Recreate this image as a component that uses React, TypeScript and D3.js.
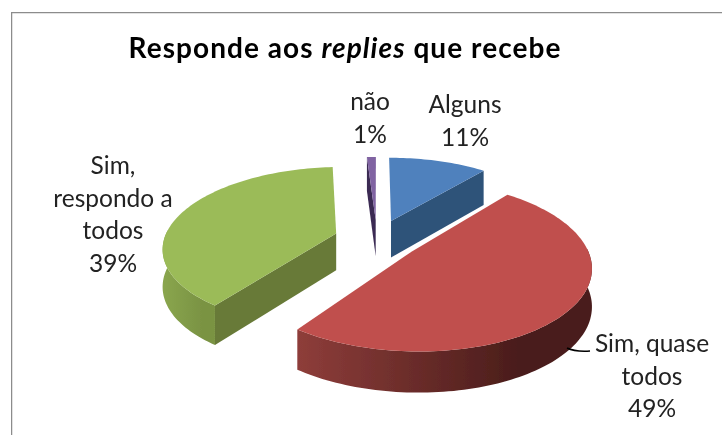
import React from "react";
import * as d3 from "d3";

const categories = ["Alguns", "Sim, quase todos", "Sim, respondo a todos", "não"];
const values = [11, 49, 39, 1];
const topColors = ["#4f81bd", "#c0504d", "#9bbb59", "#8064a2"];
const faceColors = ["#2f5279", "#5a2320", "#687a38", "#3a2a52"];
const wallFrom = ["#3a5f8c", "#8e3d3a", "#8aa64e", "#4a3a60"];
const wallTo = ["#2a4a6e", "#4a1d1b", "#7a9343", "#2f2244"];
const labelLines = [["Alguns", "11%"], ["Sim, quase", "todos", "49%"], ["Sim,", "respondo a", "todos", "39%"], ["não", "1%"]];
const labelAnchors: [number, number][] = [[465, 113], [652, 352], [113, 174], [370, 110]];
const title = ["Responde aos ", "replies", " que recebe"];

const W = 722, H = 435;
const cx = 377, cy = 239, R = 172, tilt = 0.46, persp = 6.1, depth = 37, explode = 0.25;

const pieGen = d3.pie<number>().sort(null).value(d => d);
const arcs = pieGen(values);

function project(wx: number, wy: number, z: number): [number, number] {
  const s = persp / (persp - wy);
  return [cx + R * wx * s, cy + R * tilt * wy * s + z * depth * Math.sqrt(s)];
}

const line = d3.line<[number, number]>();

export default function App() {
  const slices = arcs.map((a, i) => {
    const mid = (a.startAngle + a.endAngle) / 2;
    const ox = Math.sin(mid) * explode, oy = -Math.cos(mid) * explode;
    const pt = (th: number, r: number, z: number) => project(ox + Math.sin(th) * r, oy - Math.cos(th) * r, z);
    const n = Math.max(4, Math.ceil((a.endAngle - a.startAngle) * 40));
    const ths = d3.range(n + 1).map(k => a.startAngle + (a.endAngle - a.startAngle) * k / n);
    const rim = ths.map(t => pt(t, 1, 0));
    const top = line([pt(0, 0, 0), ...rim])! + "Z";
    const wallThs = ths.filter(t => Math.cos(t) < 0.05);
    const wall = wallThs.length > 1
      ? line([...wallThs.map(t => pt(t, 1, 0)), ...wallThs.slice().reverse().map(t => pt(t, 1, 1))])! + "Z"
      : null;
    const wallXs = wallThs.map(t => pt(t, 1, 0)[0]);
    const showFace = i === 0 || i === 2 || i === 3;
    const faceTh = i === 0 ? a.endAngle : a.startAngle;
    const face = showFace
      ? line([pt(0, 0, 0), pt(faceTh, 1, 0), pt(faceTh, 1, 1), pt(0, 0, 1)])! + "Z"
      : null;
    return { i, top, wall, face, x0: d3.min(wallXs) ?? 0, x1: d3.max(wallXs) ?? 1 };
  });
  const order = [3, 0, 2, 1];

  return (
    <svg width={W} height={H} viewBox={`0 0 ${W} ${H}`} style={{ position: "absolute", left: 0, top: 0, background: "#fff" }}>
      <defs>
        {slices.map(s => (
          <linearGradient key={s.i} id={`wall${s.i}`} gradientUnits="userSpaceOnUse" x1={s.x0} x2={s.x1} y1={0} y2={0}>
            <stop offset="0" stopColor={wallFrom[s.i]} />
            <stop offset="0.75" stopColor={wallTo[s.i]} />
            <stop offset="1" stopColor={wallTo[s.i]} />
          </linearGradient>
        ))}
        <filter id="soft" x="0" y="0" width="100%" height="100%">
          <feGaussianBlur stdDeviation="0.35" />
        </filter>
      </defs>
      <g filter="url(#soft)">
        <path d={`M722,12H11V435`} fill="none" stroke="#8c8c8c" strokeWidth={2.5} />
        <text x={345} y={58} textAnchor="middle" fontFamily="Lato" fontWeight={700} fontSize={28} letterSpacing={1.05} fill="#000">
          {title[0]}<tspan fontStyle="italic">{title[1]}</tspan>{title[2]}
        </text>
        {order.map(i => {
          const s = slices[i];
          return (
            <g key={i} aria-label={categories[i]}>
              {s.face && <path d={s.face} fill={faceColors[i]} />}
              {s.wall && <path d={s.wall} fill={`url(#wall${i})`} />}
              <path d={s.top} fill={topColors[i]} />
            </g>
          );
        })}
        <path d="M567,348Q575,352 590,351" fill="none" stroke="#000" strokeWidth={1.5} />
        {labelLines.map((ls, i) => (
          <text key={i} textAnchor="middle" fontFamily="Lato" fontSize={24.5} fill="#222">
            {ls.map((l, k) => (
              <tspan key={k} x={labelAnchors[i][0]} y={labelAnchors[i][1] + k * 32.5}>{l}</tspan>
            ))}
          </text>
        ))}
      </g>
    </svg>
  );
}
